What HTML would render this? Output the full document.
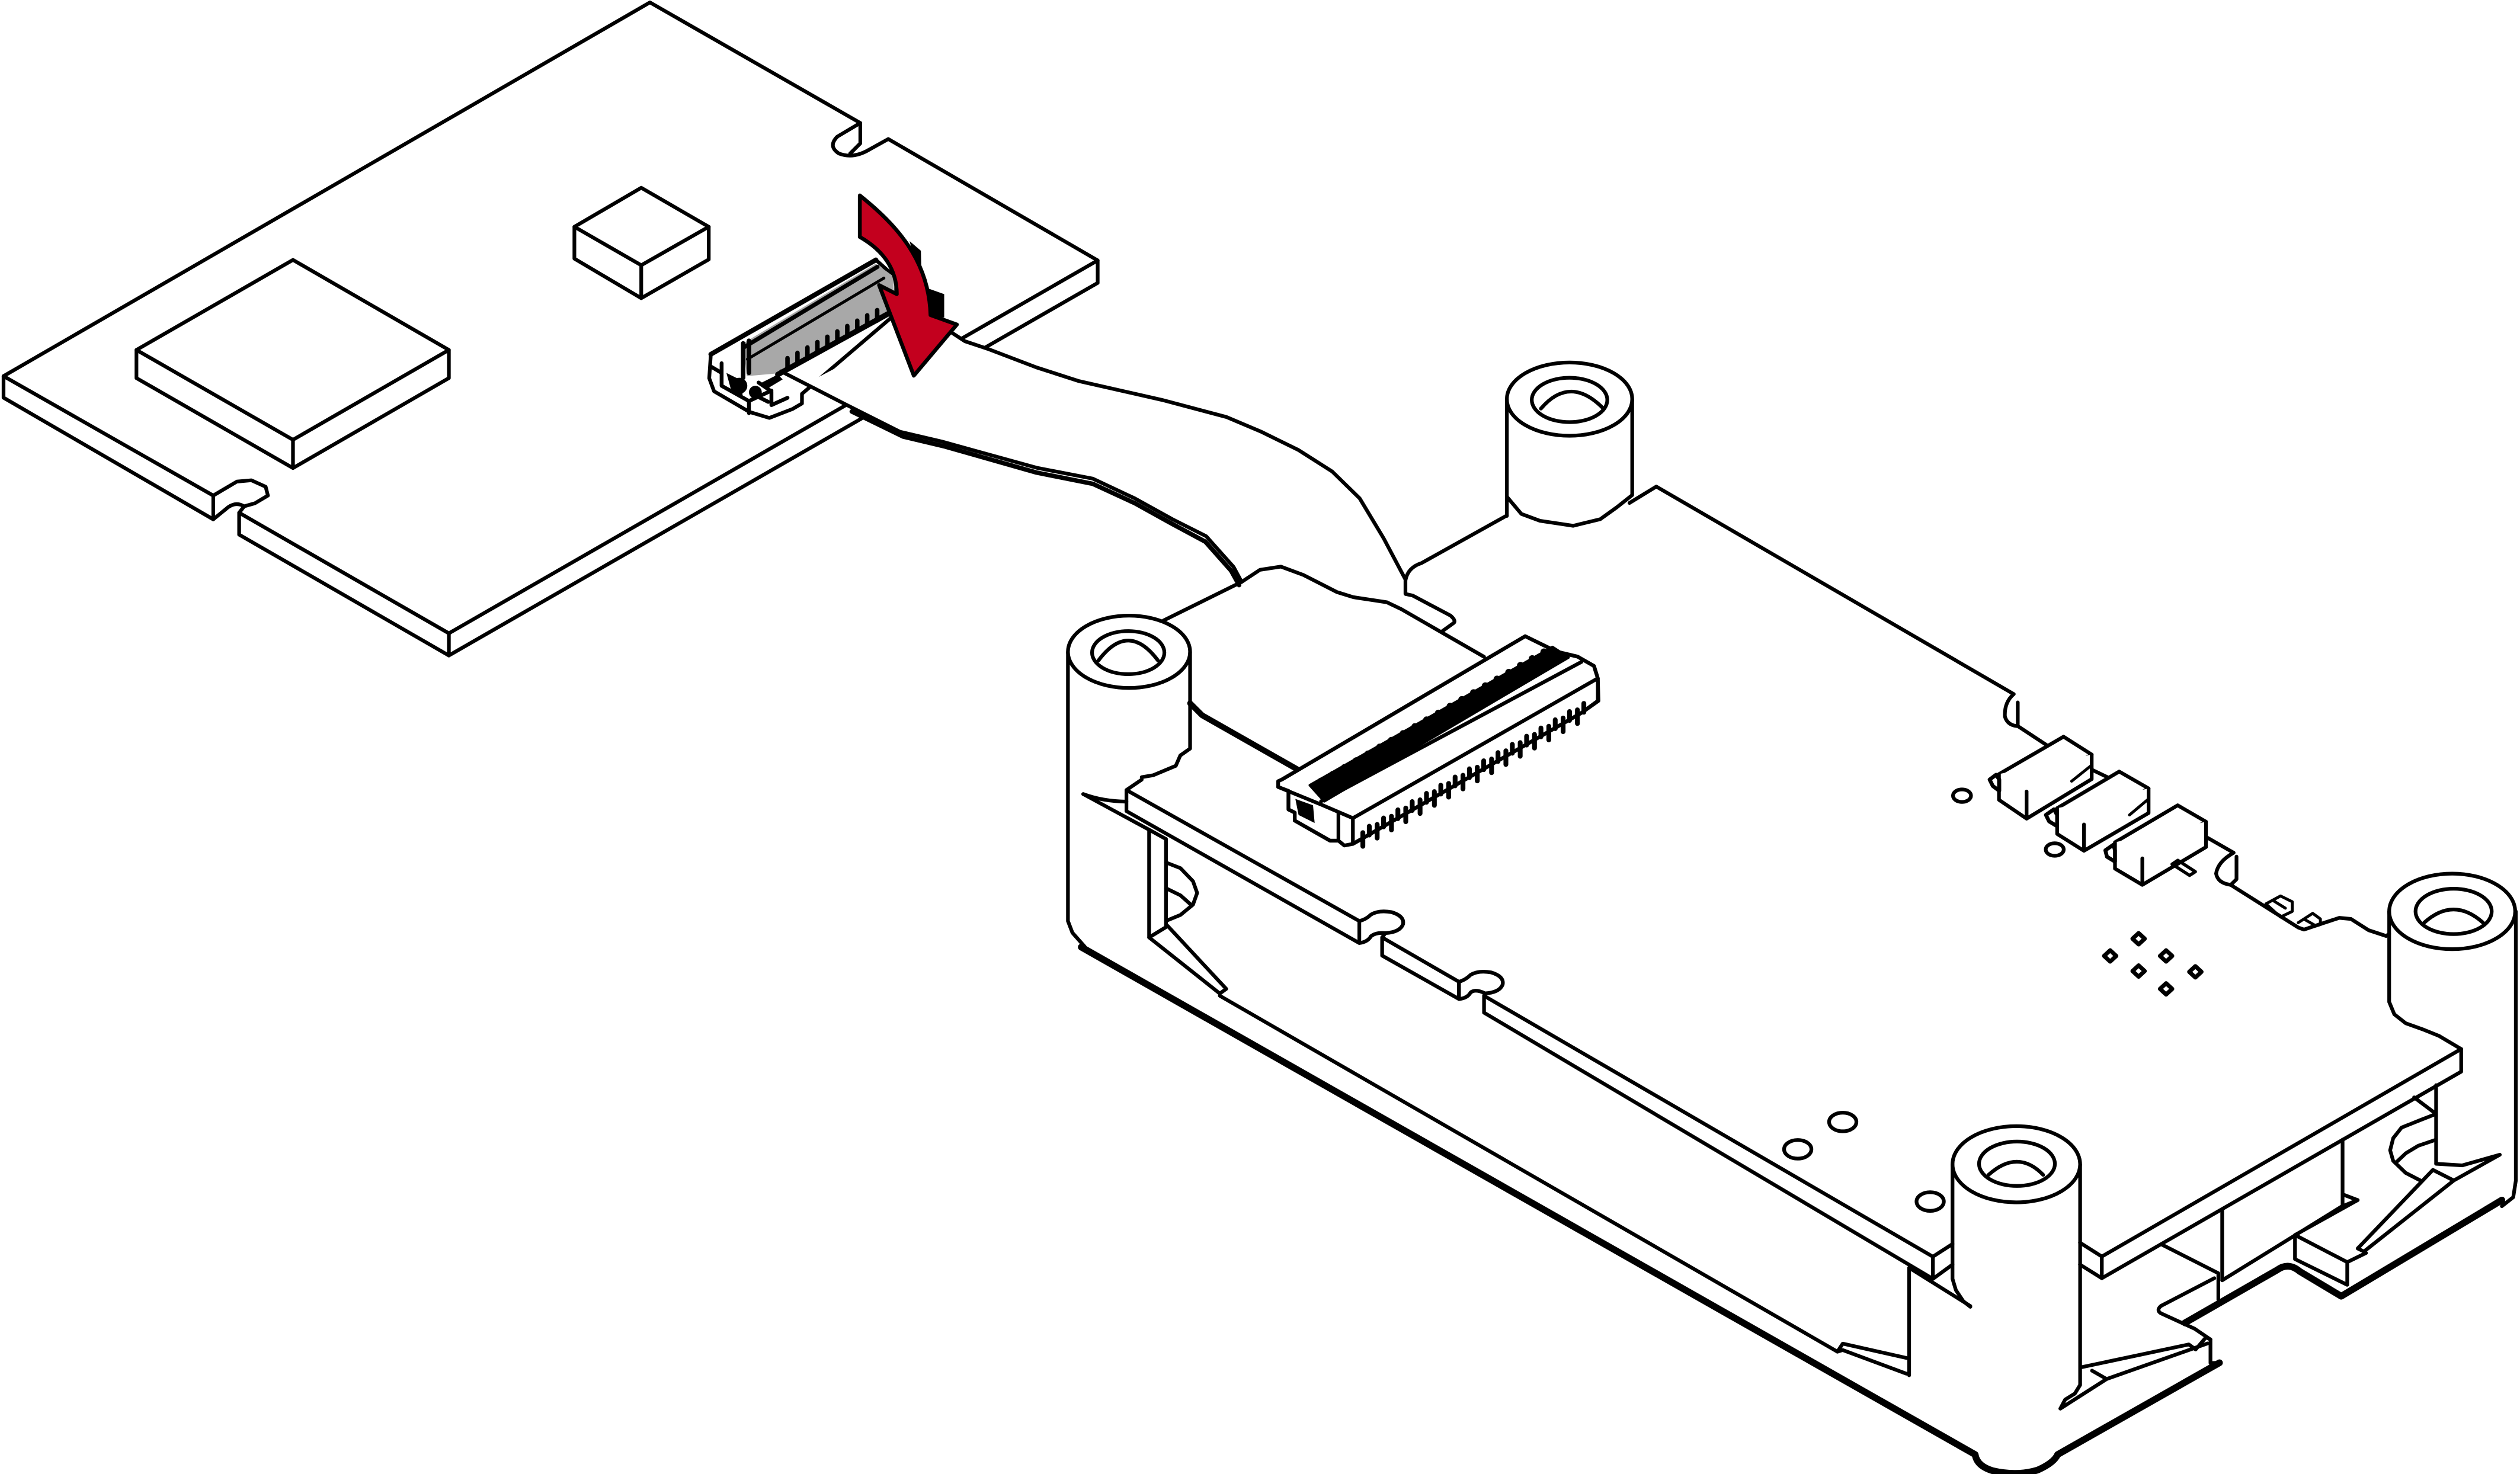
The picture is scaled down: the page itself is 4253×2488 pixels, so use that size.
<!DOCTYPE html>
<html>
<head>
<meta charset="utf-8">
<style>
html,body{margin:0;padding:0;background:#fff;}
svg{display:block;}
</style>
</head>
<body>
<svg width="4253" height="2488" viewBox="0 0 1568 917" preserveAspectRatio="none" xmlns="http://www.w3.org/2000/svg">
<rect x="0" y="0" width="1568" height="917" fill="#fff"/>
<g fill="none" stroke="#000" stroke-width="2.3" stroke-linejoin="round" stroke-linecap="round">

<!-- ================= TOP-LEFT BOARD ================= -->
<path fill="#fff" d="M2.2,234 L404.4,1.5 L535.3,76.5 L521,85 Q515,91 522,95.5 Q531,99 541,93 L552.7,86.5 L683,162 L279.3,394 L148.8,319 L151.9,315 L158.6,313.1 L166.7,308.3 L165.3,302.8 L156.4,298.8 L147.4,299.6 L132.7,308.3 Z"/>
<path d="M2.2,234 V247.4 L132.7,323.1 V308.3"/>
<path d="M132.7,323.1 L142,315.5 Q147,312 151.9,315"/>
<path d="M148.8,319 V332.6 L279.3,407.8 V394"/>
<path d="M279.3,407.8 L683,176 V162"/>
<path d="M535.3,76.5 V89.2 L529,95.5"/>

<!-- big chip -->
<path fill="#fff" d="M84.9,217.7 L182.3,161.7 L279.3,217.7 L182.3,273.6 Z"/>
<path d="M84.9,217.7 V235.2 L182.3,291.2 L279.3,235.2 V217.7 M182.3,273.6 V291.2"/>
<!-- small chip -->
<path fill="#fff" d="M357.4,141.1 L399,116.8 L441,141.1 L399,165 Z"/>
<path d="M357.4,141.1 V160.9 L399,185.5 L441,161.4 V141.1 M399,165 V185.5"/>

<!-- ================= TOP CONNECTOR ================= -->
<path fill="#fff" d="M442.3,220.4 L545,161.7 L557.6,173 L557.6,195 L499,245 V251 L493,254.5 L478.7,260 L466.4,256.3 L444.3,243.4 L441.3,235.3 Z"/>
<path fill="#a8a8a8" stroke="none" d="M462.4,213.6 L545,164 L556,172 L556,186 L552,196 L487,232 L464.7,234 Z"/>
<path stroke-width="3" d="M442.3,220.4 L545,161.7"/>
<path stroke-width="2.6" d="M463,216 L546,166"/>
<path stroke-width="1.8" d="M465,223.5 L550,173"/>
<path stroke-width="3.4" d="M484,233 L553,195"/>
<g stroke-width="2.8">
<path d="M490,229.3 v-6.5 M496.2,226 v-6.5 M502.4,222.7 v-6.5 M508.6,219.3 v-6.5 M514.8,216 v-6.5 M521,212.7 v-6.5 M527.2,209.3 v-6.5 M533.4,206 v-6.5 M539.6,202.7 v-6.5 M545.8,199.4 v-6.5"/>
</g>
<path stroke-width="2.8" d="M462.4,213.6 V235 M466,212 V232"/>
<path stroke-width="2.4" d="M442.3,228 L449,232 M449,226 V240 L466,249.5 V257 M466,249.5 L480,243 M472,238 L480,243.5 V252 L490,247.5 M470,246 L478,250"/>
<circle cx="460" cy="240" r="5" fill="#000" stroke="none"/>
<circle cx="470" cy="244" r="4" fill="#000" stroke="none"/>
<path fill="#000" stroke="none" d="M474,238 L484,233 L487,236 L477,242 Z"/>
<path fill="#000" stroke="none" d="M452,232 L462,237 L462,247 L455,243 Z"/>

<!-- latch behind arrow -->
<path fill="#000" stroke="none" d="M566,150 L573,156 L573.5,178 L587.5,183 L587.5,197.5 L578,197 Z"/>

<!-- ================= LOWER ASSEMBLY ================= -->

<!-- carrier heavy bottom edge -->
<path stroke-width="4.2" d="M672.8,589.2 L1229,904.9 Q1230,912 1240,915 Q1255,918.5 1268,914.5 Q1278,910 1280.3,904.9 L1381,847.8"/>
<path stroke-width="4.2" d="M1359.5,823 L1417,790 Q1424,785 1431,791 L1456.8,806.4 L1556.7,746.6"/>

<!-- left carrier rail & post -->
<path d="M759,619.5 L1143.3,840.9"/>
<path d="M674,494 L715,516.2 L725.5,522"/>
<path d="M674,494 Q686,498.5 700.9,498.7"/>
<path d="M715,516.2 V583.2 L725.5,576.8 V522"/>
<path d="M715,583.2 L759,618.1 L763,615.2 L726.5,576"/>
<path d="M725.5,536.6 L734.5,540.1 L742.3,548.2 L744.9,555.5 L742.3,562.8 L734.5,569.2 L725.5,572.9"/>
<path d="M725.5,552.6 L734.5,557 L741,562.8"/>

<!-- wall and gusset left of middle cylinder -->
<path d="M1187.9,788.7 V855.6"/>
<path d="M1187.9,788.7 L1226,812.5"/>
<path d="M1143.3,840.9 L1146.6,835.9 L1186.2,844.8 M1146.6,839.9 L1186.2,854.6 M1143.3,840.9 L1146.6,839.9"/>

<!-- right of middle cylinder: gusset & step -->
<path d="M1295.5,850.5 L1361.9,836.4 L1366.2,839.5"/>
<path d="M1301.7,852.7 L1310.8,857.9 L1373.5,835.8"/>
<path d="M1282,876.3 L1310.8,857.9"/>
<path d="M1366.2,839.5 L1372.6,832 L1375.4,833.3 V848 L1381,847.8"/>
<path d="M1345.2,774.3 L1380.3,792.1 V808.6"/>
<path d="M1344.7,812.4 L1377.8,795.2"/>
<path d="M1344.7,812.4 Q1341.5,815 1344.5,817 L1365.5,826.6 L1375.4,833.3"/>
<path d="M1382.7,752.2 V796.5"/>
<path d="M1382.7,796.5 L1457.5,750.3"/>
<path d="M1457.6,709 V750.4"/>
<path d="M1457.6,743 L1467,746.6 L1457.6,750.4"/>
<path d="M1428,768.3 L1467,746.6"/>
<path d="M1428,768.3 V783.3 L1460.5,799.3 V785.2 L1428,768.3 M1460.5,785.2 L1472.2,779.5"/>

<!-- right wall with hole & gusset -->
<path d="M1515.8,675.1 V724"/>
<path d="M1502.1,682.7 L1515.8,693"/>
<path d="M1515.8,693 L1506,696.8 L1494.3,701.5 L1489.1,708.1 L1487.2,715.6 L1489.1,722.2 L1496.9,729.7 L1506,734.4"/>
<path d="M1515.8,709 L1504.7,712.8 L1496.9,717.5 L1491,723.1"/>
<path d="M1515.8,724 L1532,725 L1555.4,718.4"/>
<path d="M1513.8,727.8 L1467,776.7 L1470.9,778.6 L1526.8,734.4 Z M1526.8,734.4 L1555.4,718.4"/>

<!-- lower board front edges -->
<path d="M710.4,485 L700.9,491.5 L845.8,573"/>
<path d="M845.8,573 Q850,572 853,569 Q858,566 866,567.5 Q874,570 873,575 Q871,580 862,580.5 L860,583.2"/>
<path d="M845.8,573 V586.7 Q851,586 853,582.5 Q856,580 862,580.5"/>
<path d="M860,583.2 V594.5 L907.8,621.5 V610.8"/>
<path d="M860,583.2 L907.8,610.8"/>
<path d="M907.8,610.8 Q912,609.5 915,606.5 Q920,603.5 928,605 Q936,607.5 935,612.5 Q933,617.5 924,618 L923.4,619.5"/>
<path d="M907.8,610.8 V621.5 Q913,621 915,617.5 Q918,615 924,618"/>
<path d="M923.4,619.5 V630 L1202.7,795.6 L1214.9,786.7"/>
<path d="M923.4,619.5 L1202.7,781.8 L1214.9,773.9"/>
<path d="M1202.7,781.8 V795.6"/>
<path d="M700.9,491.5 V504.6 L845.8,586.7"/>

<!-- lower board right edge -->
<path d="M1294.2,773.1 L1307.8,781.7 L1531.4,652.6"/>
<path d="M1294.2,786.7 L1307.8,795.2 L1531.4,666.7 V652.6"/>
<path d="M1307.8,781.7 V795.2"/>
<path d="M1517.7,644.5 L1531.4,652.6"/>

<!-- lower board back-right edge -->
<path d="M1013.9,312.9 L1030.6,302.7 L1253,431.8"/>
<path d="M1253,431.8 Q1247,437 1247.5,445.8 Q1249,451 1254.8,451.7 M1255.5,437 V451.7 L1274.2,464"/>
<path d="M1301.5,478.8 L1311.3,483.5"/>
<path d="M1373.4,521.1 L1389.8,530.5"/>
<path d="M1389.8,530.5 Q1380,536 1378.9,543.5 Q1380,549.5 1388,550.5 M1391.6,532.9 V547 L1388,550.5"/>
<path d="M1388,550.5 L1430,577 L1433.6,578.3 L1446.4,574 L1455.6,571 L1462.8,571.7 L1473.8,578.7 L1484.7,582.3 L1486.6,581"/>
<path stroke-width="1.8" d="M1409.9,562.3 L1419,557.4 L1426.3,561 V567 L1419,570.5 Z M1414,560 L1422,565"/>
<path stroke-width="1.8" d="M1430,574 L1439,568.2 L1443.8,571.7 V575.2 L1435.6,577.6 M1434,572 L1441,576"/>

<!-- board back near ribbon -->
<path d="M874.5,361 Q876,353 884.5,350.3 L937.6,320.7"/>
<path d="M874.5,369.5 L879,370.5 L902.6,383 Q906,386 904.6,387.5 L897.4,392.7"/>

<!-- switches -->
<g fill="#fff">
<path d="M1243.8,481.6 L1284,458.3 L1301.5,469.4 L1261,492.4 Z"/>
<path d="M1243.8,481.6 V497.6 L1261,509.3 L1301.5,484.7 V469.4 M1261,492.4 V509.3"/>
<path d="M1280,502.8 L1318.6,480 L1336.9,490.5 L1296.7,512.9 Z"/>
<path d="M1280,502.8 V518.8 L1296.7,529.3 L1336.9,505.8 V490.5 M1296.7,512.9 V529.3"/>
<path d="M1316,524 L1355,501 L1372.6,511.2 L1333,534 Z"/>
<path d="M1316,524 V540.4 L1333,550.5 L1372.6,527 V511.2 M1333,534 V550.5"/>
</g>
<path stroke-width="1.8" d="M1301.5,476 L1289,486 M1336.9,497 L1325,507"/>
<path stroke-width="2.4" d="M1238,485 L1242,482 L1244,485 V492 L1240,489 Z M1273,507 L1278,503.5 L1280,507 V514 L1275,511 Z M1310,529 L1315,525.5 L1316,529 V536 L1311,533 Z"/>
<path stroke-width="2" d="M1351.5,537.6 L1355.1,535.2 L1366,542.3 L1362.4,544.6 Z"/>

<!-- small ellipses & diamonds on board -->
<ellipse cx="1220.8" cy="495" rx="5.6" ry="3.9"/>
<ellipse cx="1278.5" cy="528.5" rx="5.6" ry="3.9"/>
<ellipse cx="1146.6" cy="698" rx="8.5" ry="5.8"/>
<ellipse cx="1118.6" cy="715" rx="8.5" ry="5.8"/>
<ellipse cx="1201" cy="747.5" rx="8.5" ry="5.8"/>
<g stroke-width="2.6">
<path d="M1330.7,580.5 L1334.5,584 L1330.7,587.5 L1326.9,584 Z"/>
<path d="M1313,591.2 L1316.8,594.7 L1313,598.2 L1309.2,594.7 Z"/>
<path d="M1347.8,591.2 L1351.6,594.7 L1347.8,598.2 L1344,594.7 Z"/>
<path d="M1330.7,600.6 L1334.5,604.1 L1330.7,607.6 L1326.9,604.1 Z"/>
<path d="M1366,601.1 L1369.8,604.6 L1366,608.1 L1362.2,604.6 Z"/>
<path d="M1347.8,611.7 L1351.6,615.2 L1347.8,618.7 L1344,615.2 Z"/>
</g>

<!-- ================= LOWER CONNECTOR ================= -->
<path fill="#fff" d="M795.3,486 L797.9,484.8 L949,395.8 L968.6,405.4 L981.6,408.5 L991.8,414.3 L994.2,422 L994.6,436 L984,443.5 L841.8,525 L836.5,526 L832.8,523 L827.6,523 L805.6,510.5 V505.5 L801.7,503.6 V492 L795.3,489.6 Z"/>
<path d="M797.9,484.8 L949,395.8 L968.6,405.4 L981.6,408.5 L991.8,414.3 L994.2,422 V436 L984,443.5 L841.8,525"/>
<path fill="#000" stroke-width="1.6" d="M815,488.5 L966,402.5 L976,409 L824,498.5 Z"/>
<g fill="#000" stroke="none">
<circle cx="822" cy="486" r="2.2"/><circle cx="829.3" cy="481.8" r="2.2"/><circle cx="836.6" cy="477.5" r="2.2"/><circle cx="843.9" cy="473.3" r="2.2"/><circle cx="851.2" cy="469.1" r="2.2"/><circle cx="858.5" cy="464.8" r="2.2"/><circle cx="865.8" cy="460.6" r="2.2"/><circle cx="873.1" cy="456.4" r="2.2"/><circle cx="880.4" cy="452.1" r="2.2"/><circle cx="887.7" cy="447.9" r="2.2"/><circle cx="895" cy="443.7" r="2.2"/><circle cx="902.3" cy="439.4" r="2.2"/><circle cx="909.6" cy="435.2" r="2.2"/><circle cx="916.9" cy="431" r="2.2"/><circle cx="924.2" cy="426.7" r="2.2"/><circle cx="931.5" cy="422.5" r="2.2"/><circle cx="938.8" cy="418.3" r="2.2"/><circle cx="946.1" cy="414" r="2.2"/><circle cx="953.4" cy="409.8" r="2.2"/><circle cx="960.7" cy="405.6" r="2.2"/>
</g>
<path d="M822,498.5 L984,411.8"/>
<path d="M841.8,509 L994.2,422"/>
<path d="M795.3,489.6 L822,500.5 L841.8,509 V525"/>
<path d="M801.7,492 V503.6 L805.6,505.5 V510.5 L827.6,523 L832.8,523 V505.8"/>
<path fill="#000" stroke="none" d="M806,497 L817,501 L818,512 L808,507 Z"/>
<g stroke-width="3">
<path d="M848,518 v8.5 M856.9,512.9 v8.5 M865.8,507.8 v8.5 M874.7,502.7 v8.5 M883.6,497.6 v8.5 M892.5,492.5 v8.5 M901.4,487.4 v8.5 M910.3,482.3 v8.5 M919.2,477.3 v8.5 M928.1,472.2 v8.5 M937,467.1 v8.5 M945.9,462 v8.5 M954.8,456.9 v8.5 M963.7,451.8 v8.5 M972.6,446.7 v8.5 M981.5,441.6 v8.5"/>
<path d="M852,514 v5.5 M860.9,508.9 v5.5 M869.8,503.8 v5.5 M878.7,498.7 v5.5 M887.6,493.6 v5.5 M896.5,488.5 v5.5 M905.4,483.4 v5.5 M914.3,478.3 v5.5 M923.2,473.3 v5.5 M932.1,468.2 v5.5 M941,463.1 v5.5 M949.9,458 v5.5 M958.8,452.9 v5.5 M967.7,447.8 v5.5 M976.6,442.7 v5.5 M985.5,437.6 v5.5"/>
</g>

<!-- ================= CYLINDERS ================= -->
<!-- top-right -->
<ellipse cx="976.6" cy="248.3" rx="39" ry="22.8" fill="#fff"/>
<ellipse cx="976.6" cy="248.8" rx="23.5" ry="13.8"/>
<path d="M958.8,254.2 Q976.9,233 997.7,254.2"/>
<path d="M937.6,248.3 V309 L946.6,319.7 L958.2,324 L978.9,327.1 L995.7,323 L1006,315.6 L1015.6,308 V248.3"/>
<path d="M937.6,309 V321"/>

<!-- left -->
<ellipse cx="702.5" cy="405.5" rx="38" ry="22.5" fill="#fff"/>
<ellipse cx="702" cy="406" rx="22.5" ry="13.4"/>
<path d="M683.4,411 Q702,386 720.6,411"/>
<path d="M664.5,405.5 V573 L667.3,580.3 L675,589"/>
<path d="M740.5,405.5 V465.7 L734.4,470 L731.6,476.4 L717.5,482.3 L710.4,483.5"/>

<!-- middle front -->
<ellipse cx="1254.6" cy="724.3" rx="39.7" ry="23.7" fill="#fff"/>
<ellipse cx="1255" cy="724" rx="23.6" ry="13.8"/>
<path d="M1237.3,730.9 Q1255.5,714.5 1271.3,730.9"/>
<path d="M1214.9,724.3 V795.6 L1217,802.6 L1221.6,809.5 L1226,813"/>
<path d="M1294.3,724.3 V861.6 L1291,867 L1285,870.7 L1282,876.3"/>

<!-- right -->
<ellipse cx="1525.8" cy="567" rx="39.2" ry="23.5" fill="#fff"/>
<ellipse cx="1526.7" cy="567" rx="23.7" ry="14.1"/>
<path d="M1508.4,574 Q1526.6,557.6 1545,574"/>
<path d="M1486.6,567 V623.3 L1489.8,631 L1496.9,636.6 L1507.3,640.3 L1517.7,644.5"/>
<path d="M1565.4,567 V734.5 L1563.8,744.8 L1556.7,750.4"/>

<!-- ================= RIBBON ================= -->
<path fill="#fff" stroke="none" d="M489,232.5 L526,251.5 L560,268.6 L586,274.7 L645,291 L680,297.8 L706,310 L729.5,323 L750.5,333.6 L767.5,352.6 L772.6,362 L784,354.5 L797,352.5 L811,357.7 L832,368.4 L842,371.5 L863,374.7 L872,379 L874.5,369.5 L874.5,360.5 L861,335 L846,310 L829,293.4 L808,280 L785,268.7 L763,259.4 L723,248.8 L671,237 L645,228.6 L614.5,217 L600.4,212.3 L592,206.8 L575,200 L499,240 Z"/>
<path d="M592,206.8 L600.4,212.3 L614.5,217 L645,228.6 L671,237 L723,248.8 L763,259.4 L785,268.7 L808,280 L829,293.4 L846,310 L861,335 L874.5,360.5 V369.5"/>
<path d="M486,231 L526,251.5 L560,268.6 L586,274.7 L645,291 L680,297.8 L706,310 L729.5,323 L750.5,333.6 L767.5,352.6 L772.6,362"/>
<path stroke-width="2.8" d="M530,256 L562,271.6 L588,277.8 L645,294 L680,301 L706,313 L729.5,326 L750,337 L766,355 L771,364"/>
<path d="M772.6,362 L784,354.5 L797,352.5 L811,357.7 L832,368.4 L842,371.5 L863,374.7 L872,379 L923.4,408.6"/>
<path d="M724,386 L772.6,362"/>
<path stroke-width="3.6" d="M740.5,437.5 L748,445 L807,478.5"/>

<!-- ================= RED ARROW ================= -->
<path fill="#c3001e" stroke-width="2.4" d="M535,121.6 C558,140 578,162 579,196 L595.4,201.9 L568.6,233.7 L547,177.4 L558,183 C558,168 550,156 535,147.4 Z"/>

</g>
</svg>
</body>
</html>
